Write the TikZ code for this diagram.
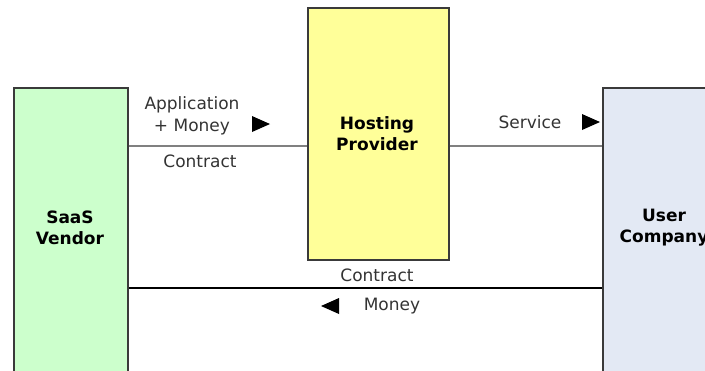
\documentclass[tikz,border=0pt]{standalone}
\usepackage{fontspec}
\setmainfont{DejaVu Sans}
\usepackage{tikz}
\usetikzlibrary{positioning}
\definecolor{vendorgreen}{HTML}{CCFFCC}
\definecolor{hostyellow}{HTML}{FFFF99}
\definecolor{userblue}{HTML}{E3E9F4}
\definecolor{boxedge}{HTML}{3A3A3A}
\definecolor{labelgray}{HTML}{333333}
\tikzset{party/.style = {draw=boxedge, line width=1.5pt, anchor=north west, inner sep=0}}
\tikzset{partyname/.style = {font=\fontsize{17}{21}\selectfont\bfseries, text=black, align=center, inner sep=0}}
\tikzset{flow/.style = {font=\fontsize{17}{22}\selectfont, text=labelgray, align=center, inner sep=0}}
\tikzset{link/.style = {line width=1.5pt}}
\tikzset{tip/.style = {fill=black}}

\begin{document}
\begin{tikzpicture}[x=1pt, y=-1pt]
    \useasboundingbox (0, 0) rectangle (705, 370);
    \clip (0, 0) rectangle (705, 370);

    \node [party, fill=vendorgreen, minimum width=114, minimum height=330] (vendor) at (13, 87) {};
    \node [party, fill=hostyellow, minimum width=141, minimum height=252] (hosting) at (307, 7) {};
    \node [party, fill=userblue, minimum width=130, minimum height=330] (user) at (602, 87) {};

    \node [partyname] (vendorname) at (70, 228) {SaaS\\Vendor};
    \node [partyname] (hostingname) at (377, 134) {Hosting\\Provider};
    \node [partyname] (username) at (664, 228) {User\\Company};

    \coordinate (upper) at (0, 146);
    \coordinate (lower) at (0, 288);

    \draw [link, draw=gray] (vendor.east |- upper) -- (hosting.west |- upper);
    \draw [link, draw=gray] (hosting.east |- upper) -- (user.west |- upper);
    \draw [link, draw=black] (vendor.east |- lower) -- (user.west |- lower);

    \node [flow] (appmoney) at (192, 116) {Application\\+ Money};
    \node [flow] (contractup) at (200, 161) {Contract};
    \node [flow] (service) at (530, 122) {Service};
    \node [flow] (contractdown) at (377, 275) {Contract};
    \node [flow] (money) at (392, 306) {Money};

    \coordinate (tipapp) at (261, 124);
    \coordinate (tipservice) at (591, 122);
    \coordinate (tipmoney) at (330, 306);
    \fill [tip] (tipapp) +(-9, -8) -- +(9, 0) -- +(-9, 8) -- cycle;
    \fill [tip] (tipservice) +(-9, -8) -- +(9, 0) -- +(-9, 8) -- cycle;
    \fill [tip] (tipmoney) +(9, -8) -- +(-9, 0) -- +(9, 8) -- cycle;
\end{tikzpicture}
\end{document}
